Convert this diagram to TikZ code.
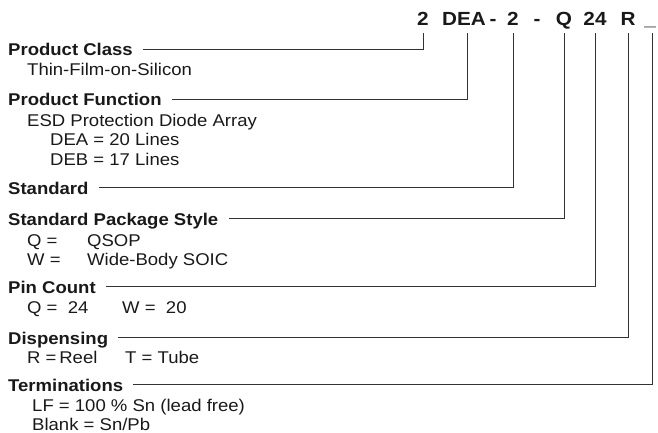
\documentclass[tikz,border=0pt]{standalone}
\usepackage{fontspec}
\setmainfont{Liberation Sans}[FakeStretch=1.09]
\usetikzlibrary{calc}
\tikzset{
  code/.style={font=\fontsize{19}{23}\selectfont\bfseries,anchor=base,inner sep=0pt,text=black!90},
  head/.style={font=\fontsize{17}{19}\selectfont\bfseries,anchor=base west,inner sep=0pt,text=black!90},
  sub/.style={font=\fontsize{17}{19}\selectfont,anchor=base west,inner sep=0pt,text=black!90},
  lead/.style={line width=0.8pt,draw=black!80}
}

\begin{document}
\begin{tikzpicture}[x=1pt,y=-1pt]
    \useasboundingbox (0,0) rectangle (658,433);
    % ordering code
    \node[code] (c1) at (423,26){2};
    \node[code] (c2) at (464,26){DEA};
    \node[code] (d1) at (493,26){-};
    \node[code] (c3) at (513,26){2};
    \node[code] (d2) at (537,26){-};
    \node[code] (c4) at (564,26){Q};
    \node[code] (c5) at (595,26){24};
    \node[code] (c6) at (628,26){R};
    \node[code] (c7) at (650,26){\_};
    % fields
    \node[head] (h1) at (8,56){Product Class};
    \node[sub] (s1) at (27,76){Thin-Film-on-Silicon};
    \node[head] (h2) at (8,106){Product Function};
    \node[sub] (s2) at (27,126.7){ESD Protection Diode Array};
    \node[sub] (s2a) at (50,145.7){DEA = 20 Lines};
    \node[sub] (s2b) at (50,165){DEB = 17 Lines};
    \node[head] (h3) at (8,194){Standard};
    \node[head] (h4) at (8,225){Standard Package Style};
    \node[sub] (s4a) at (27,246){Q =};
    \node[sub] (s4b) at (87,246){QSOP};
    \node[sub] (s4c) at (27,265){W =};
    \node[sub] (s4d) at (87,265){Wide-Body SOIC};
    \node[head] (h5) at (8,293){Pin Count};
    \node[sub] (s5a) at (27,313){Q =\ \ 24};
    \node[sub] (s5b) at (122,313){W =\ \ 20};
    \node[head] (h6) at (8,344){Dispensing};
    \node[sub] (s6a) at (27,363){R =\,Reel};
    \node[sub] (s6b) at (125,363){T = Tube};
    \node[head] (h7) at (8,391){Terminations};
    \node[sub] (s7a) at (32,411.7){LF = 100 \% Sn (lead free)};
    \node[sub] (s7b) at (32,430){Blank = Sn/Pb};
    % leaders
    \draw[lead] ([xshift=10pt,yshift=6.5pt]h1.base east) -| ([yshift=-7pt]c1.base);
    \draw[lead] ([xshift=10pt,yshift=6.5pt]h2.base east) -| ([xshift=3pt,yshift=-7pt]c2.base);
    \draw[lead] ([xshift=10pt,yshift=6.5pt]h3.base east) -| ([yshift=-7pt]c3.base);
    \draw[lead] ([xshift=10pt,yshift=6.5pt]h4.base east) -| ([yshift=-7pt]c4.base);
    \draw[lead] ([xshift=10pt,yshift=6.5pt]h5.base east) -| ([yshift=-7pt]c5.base);
    \draw[lead] ([xshift=10pt,yshift=6.5pt]h6.base east) -| ([yshift=-7pt]c6.base);
    \draw[lead] ([xshift=10pt,yshift=6.5pt]h7.base east) -| ([xshift=2pt,yshift=-7pt]c7.base);
\end{tikzpicture}
\end{document}
